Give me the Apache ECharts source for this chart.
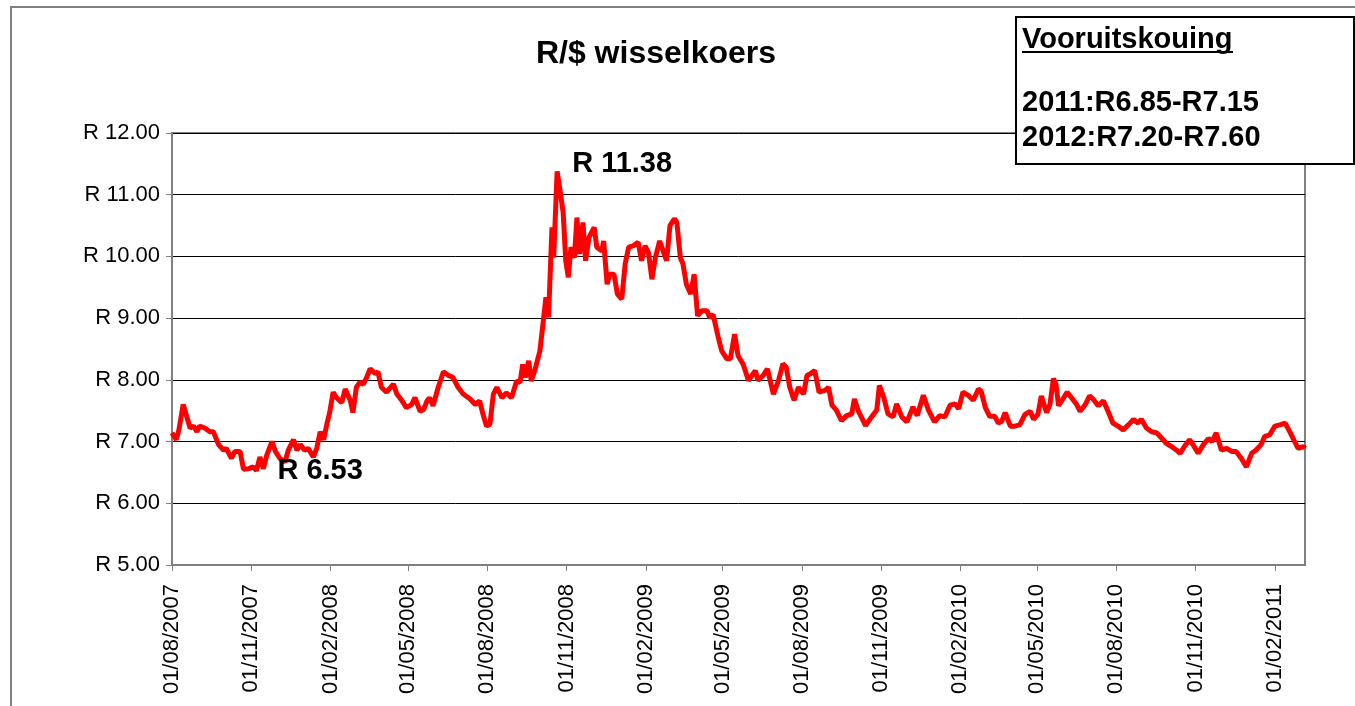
<!DOCTYPE html>
<html>
<head>
<meta charset="utf-8">
<title>R/$ wisselkoers</title>
<script src="https://cdn.jsdelivr.net/npm/echarts@6/dist/echarts.min.js"></script>
<style>
  html, body { margin: 0; padding: 0; background: #fff; }
  #chart { width: 1355px; height: 706px; }
</style>
</head>
<body>
<div id="chart"></div>
<script>
// reeks begin / einde en die asmerke (elke 3 maande)
const startDate = '2007-08-01';
const endDate = '2011-03-08';
const tickDates = ['2007-08-01', '2007-11-01', '2008-02-01', '2008-05-01', '2008-08-01',
  '2008-11-01', '2009-02-01', '2009-05-01', '2009-08-01', '2009-11-01', '2010-02-01',
  '2010-05-01', '2010-08-01', '2010-11-01', '2011-02-01'];
const yTicks = [5, 6, 7, 8, 9, 10, 11, 12];

// dae sedert startDate, en die koers op daardie dag
const days = [0, 5, 8, 13, 17, 21, 25, 29, 32, 38, 44, 48, 54, 60, 63, 69, 73, 79, 83, 89, 94, 98,
  102, 106, 110, 116, 120, 125, 131, 135, 141, 145, 149, 154, 158, 164, 168, 172, 176, 180, 183,
  187, 191, 197, 201, 207, 210, 214, 218, 222, 226, 230, 236, 239, 243, 249, 257, 261, 267, 272,
  278, 282, 288, 292, 296, 299, 303, 309, 315, 321, 326, 332, 338, 346, 352, 357, 361, 365, 369,
  373, 377, 383, 388, 394, 400, 404, 407, 410, 414, 417, 421, 427, 431, 434, 437, 441, 443, 447,
  451, 454, 457, 460, 463, 467, 470, 473, 477, 480, 484, 490, 493, 499, 501, 505, 508, 513, 517,
  522, 526, 530, 535, 541, 545, 549, 553, 557, 561, 566, 570, 574, 578, 583, 586, 590, 593, 597,
  602, 606, 610, 615, 621, 624, 628, 634, 638, 644, 648, 653, 657, 663, 669, 677, 680, 686, 691,
  698, 704, 709, 713, 717, 722, 727, 733, 737, 741, 746, 751, 758, 762, 766, 771, 777, 783, 789,
  792, 797, 800, 805, 812, 818, 821, 826, 831, 837, 841, 847, 853, 860, 865, 872, 878, 885, 891,
  897, 903, 909, 913, 918, 924, 930, 936, 939, 944, 949, 955, 959, 963, 967, 973, 978, 984, 990,
  996, 1000, 1005, 1009, 1015, 1019, 1023, 1026, 1029, 1034, 1039, 1044, 1050, 1054, 1060, 1065,
  1069, 1075, 1081, 1087, 1092, 1098, 1104, 1110, 1116, 1121, 1125, 1131, 1137, 1143, 1149, 1154,
  1160, 1166, 1170, 1175, 1181, 1185, 1191, 1197, 1203, 1207, 1212, 1218, 1224, 1230, 1235, 1241,
  1247, 1253, 1258, 1264, 1268, 1274, 1280, 1286, 1292, 1298, 1303, 1307, 1313, 1315];
const rates = [7.14, 7.03, 7.19, 7.60, 7.41, 7.22, 7.25, 7.16, 7.25, 7.22, 7.16, 7.16, 6.95, 6.86,
  6.89, 6.73, 6.84, 6.84, 6.55, 6.56, 6.59, 6.53, 6.75, 6.56, 6.78, 7.00, 6.84, 6.73, 6.67, 6.86,
  7.03, 6.86, 6.95, 6.86, 6.89, 6.75, 6.89, 7.16, 7.03, 7.30, 7.47, 7.80, 7.71, 7.63, 7.85, 7.66,
  7.47, 7.88, 7.96, 7.93, 8.04, 8.18, 8.10, 8.13, 7.88, 7.80, 7.93, 7.77, 7.66, 7.55, 7.60, 7.71,
  7.49, 7.52, 7.66, 7.71, 7.58, 7.88, 8.13, 8.07, 8.04, 7.88, 7.77, 7.69, 7.60, 7.66, 7.44, 7.25,
  7.28, 7.77, 7.88, 7.71, 7.79, 7.71, 7.98, 7.96, 8.25, 8.04, 8.31, 7.98, 8.15, 8.47, 8.96, 9.34,
  9.01, 10.47, 9.98, 11.38, 11.01, 10.71, 9.93, 9.66, 10.15, 9.98, 10.63, 10.04, 10.55, 9.93,
  10.31, 10.47, 10.15, 10.09, 10.25, 9.55, 9.71, 9.71, 9.39, 9.31, 9.88, 10.15, 10.17, 10.23,
  9.93, 10.17, 10.06, 9.63, 9.98, 10.25, 10.09, 9.93, 10.50, 10.61, 10.55, 9.98, 9.88, 9.55, 9.39,
  9.71, 9.04, 9.12, 9.12, 9.01, 9.06, 8.69, 8.47, 8.34, 8.34, 8.74, 8.39, 8.25, 7.99, 8.15, 7.99,
  8.07, 8.18, 7.77, 7.99, 8.26, 8.20, 7.88, 7.67, 7.88, 7.77, 8.07, 8.10, 8.15, 7.80, 7.83, 7.88,
  7.59, 7.51, 7.34, 7.42, 7.45, 7.69, 7.48, 7.40, 7.26, 7.40, 7.51, 7.91, 7.72, 7.45, 7.40, 7.61,
  7.40, 7.32, 7.56, 7.42, 7.75, 7.51, 7.32, 7.42, 7.40, 7.59, 7.61, 7.53, 7.80, 7.75, 7.67, 7.85,
  7.82, 7.55, 7.41, 7.41, 7.30, 7.33, 7.47, 7.25, 7.25, 7.27, 7.44, 7.49, 7.36, 7.44, 7.74, 7.47,
  7.60, 8.02, 7.93, 7.58, 7.69, 7.80, 7.71, 7.60, 7.49, 7.60, 7.74, 7.69, 7.58, 7.66, 7.47, 7.30,
  7.25, 7.19, 7.27, 7.36, 7.30, 7.36, 7.22, 7.16, 7.14, 7.05, 6.97, 6.92, 6.86, 6.81, 6.92, 7.03,
  6.95, 6.81, 6.95, 7.05, 7.00, 7.14, 6.86, 6.89, 6.84, 6.84, 6.73, 6.59, 6.81, 6.86, 6.95, 7.08,
  7.11, 7.25, 7.27, 7.30, 7.14, 7.00, 6.89, 6.92, 6.89];

// gemerkte punte
const peakDay = 447, peakRate = 11.38;
const lowDay = 98, lowRate = 6.53;

const forecastTitle = 'Vooruitskouing';
const forecastLines = ['2011:R6.85-R7.15', '2012:R7.20-R7.60'];

const FONT = '"Liberation Sans", Arial, sans-serif';
const DAY = 86400000;

function toDate(s) {
  const p = s.split('-').map(Number);
  return new Date(Date.UTC(p[0], p[1] - 1, p[2]));
}
const t0 = toDate(startDate).getTime();
function dateToDay(s) { return Math.round((toDate(s).getTime() - t0) / DAY); }
function pad(n) { return n < 10 ? '0' + n : '' + n; }
function fmtDay(v) {
  const d = new Date(t0 + Math.round(v) * DAY);
  return pad(d.getUTCDate()) + '/' + pad(d.getUTCMonth() + 1) + '/' + d.getUTCFullYear();
}
function fmtRand(v) { return 'R ' + v.toFixed(2); }

const seriesData = days.map((d, i) => [d, rates[i]]);
const tickDays = tickDates.map(dateToDay);

const chart = echarts.init(document.getElementById('chart'));
chart.setOption({
  animation: false,
  backgroundColor: '#fff',
  grid: {
    left: 172, right: 50, top: 133, bottom: 141,
    show: true, borderColor: '#808080', borderWidth: 2
  },
  xAxis: {
    type: 'value',
    min: 0,
    max: dateToDay(endDate),
    axisLine: { lineStyle: { color: '#808080', width: 2 } },
    axisTick: { show: true, length: 6, customValues: tickDays, lineStyle: { color: '#808080', width: 1 } },
    splitLine: { show: false },
    axisLabel: {
      customValues: tickDays,
      rotate: 90,
      margin: 19,
      color: '#000',
      fontSize: 22,
      fontFamily: FONT,
      formatter: fmtDay
    }
  },
  yAxis: {
    type: 'value',
    min: yTicks[0],
    max: yTicks[yTicks.length - 1],
    interval: 1,
    axisLine: { show: true, lineStyle: { color: '#808080', width: 2 } },
    axisTick: { show: true, length: 6, lineStyle: { color: '#808080' } },
    splitLine: { show: true, lineStyle: { color: '#000', width: 1 } },
    axisLabel: { margin: 12, color: '#000', fontSize: 22, fontFamily: FONT, formatter: fmtRand }
  },
  series: [{
    type: 'line',
    data: seriesData,
    showSymbol: false,
    lineStyle: { color: '#ff0000', width: 5 },
    markPoint: {
      symbol: 'circle',
      symbolSize: 2,
      itemStyle: { color: 'rgba(0,0,0,0)' },
      label: {
        show: true, position: 'right', color: '#000', fontWeight: 'bold',
        fontSize: 29, fontFamily: FONT, formatter: p => fmtRand(p.value)
      },
      data: [
        { coord: [peakDay, peakRate], value: peakRate, label: { distance: 14, offset: [0, -7] } },
        { coord: [lowDay, lowRate], value: lowRate, label: { distance: 20, offset: [0, 0] } }
      ]
    }
  }],
  graphic: [
    { type: 'rect', silent: true, z: -1, shape: { x: 11, y: 7, width: 1400, height: 800 },
      style: { fill: 'none', stroke: '#808080', lineWidth: 2 } },
    { type: 'text', z: 100, style: { x: 656, y: 54, text: 'R/$ wisselkoers', align: 'center', verticalAlign: 'middle',
      fill: '#000', font: 'bold 32px ' + FONT } },
    { type: 'group', z: 100, children: [
      { type: 'rect', z: 100, shape: { x: 1016, y: 17, width: 338, height: 147 },
        style: { fill: '#fff', stroke: '#000', lineWidth: 2 } },
      { type: 'text', z: 101, style: { x: 1022, y: 40, text: forecastTitle, verticalAlign: 'middle',
        fill: '#000', font: 'bold 29px ' + FONT } },
      { type: 'line', z: 101, shape: { x1: 1022, y1: 52, x2: 1233, y2: 52 }, style: { stroke: '#000', lineWidth: 2 } },
      { type: 'text', z: 101, style: { x: 1022, y: 103, text: forecastLines[0], verticalAlign: 'middle',
        fill: '#000', font: 'bold 29px ' + FONT } },
      { type: 'text', z: 101, style: { x: 1022, y: 138, text: forecastLines[1], verticalAlign: 'middle',
        fill: '#000', font: 'bold 29px ' + FONT } }
    ] }
  ]
});
</script>
</body>
</html>
